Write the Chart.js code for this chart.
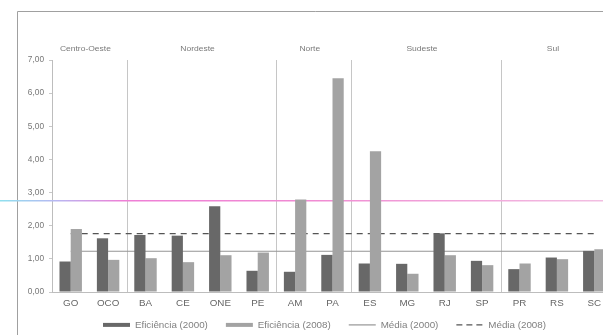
<!DOCTYPE html>
<html>
<head>
<meta charset="utf-8">
<script src="https://cdn.jsdelivr.net/npm/chart.js@4/dist/chart.umd.min.js"></script>
<style>
  html, body { margin: 0; padding: 0; background: #fff; overflow: hidden; }
  canvas { display: block; }
</style>
</head>
<body>
<canvas id="c" width="613" height="335"></canvas>
<script>
// States, grouped by region
const categories = ['GO', 'OCO', 'BA', 'CE', 'ONE', 'PE', 'AM', 'PA', 'ES', 'MG', 'RJ', 'SP', 'PR', 'RS', 'SC'];
const regions = ['Centro-Oeste', 'Nordeste', 'Norte', 'Sudeste', 'Sul'];
const regionSizes = [2, 4, 2, 4, 3];

// Efficiency per state
const eficiencia2000 = [0.92, 1.62, 1.72, 1.70, 2.59, 0.64, 0.61, 1.12, 0.86, 0.85, 1.77, 0.94, 0.69, 1.04, 1.24];
const eficiencia2008 = [1.90, 0.97, 1.02, 0.90, 1.11, 1.19, 2.79, 6.45, 4.25, 0.55, 1.11, 0.81, 0.86, 0.99, 1.29];

// Averages
const media2000 = 1.23;
const media2008 = 1.76;
const marker = 2.75;

const yTicks = [0, 1, 2, 3, 4, 5, 6, 7];

const FONT = '"Liberation Sans", Arial, sans-serif';
const fmt = v => Number(v).toFixed(2).replace('.', ',');

// frame, region separators, region names and the coloured marker line
const decor = {
  id: 'decor',
  afterLayout(chart) {
    const lg = chart.legend;
    lg.left += 18; lg.right += 18;
    lg.top -= 5; lg.bottom -= 5;
  },
  beforeDatasetsDraw(chart) {
    const {ctx, chartArea, scales: {x, y}} = chart;
    ctx.save();
    // frame
    ctx.strokeStyle = '#a0a0a0';
    ctx.lineWidth = 1;
    ctx.beginPath();
    ctx.moveTo(17.5, chart.height);
    ctx.lineTo(17.5, 11.5);
    ctx.lineTo(chart.width, 11.5);
    ctx.stroke();

    // separators between regions + region names
    let start = 0;
    regions.forEach((name, r) => {
      const end = start + regionSizes[r] - 1;
      const cx = (x.getPixelForValue(start) + x.getPixelForValue(end)) / 2;
      ctx.save();
      ctx.translate(cx - 4, chartArea.top - 11);
      ctx.scale(1.25, 1);
      ctx.font = '6.8px ' + FONT;
      ctx.fillStyle = '#7a7a7a';
      ctx.textAlign = 'center';
      ctx.textBaseline = 'middle';
      ctx.fillText(name, 0, 0);
      ctx.restore();
      if (r < regions.length - 1) {
        const sx = Math.round((x.getPixelForValue(end) + x.getPixelForValue(end + 1)) / 2) + 0.5;
        ctx.strokeStyle = '#c6c6c6';
        ctx.lineWidth = 1;
        ctx.beginPath();
        ctx.moveTo(sx, chartArea.top);
        ctx.lineTo(sx, chartArea.bottom);
        ctx.stroke();
      }
      start = end + 1;
    });

    // coloured marker line across the sheet
    const my = y.getPixelForValue(marker);
    const g = ctx.createLinearGradient(0, 0, chart.width, 0);
    g.addColorStop(0, '#8fe0ee');
    g.addColorStop(0.09, '#b7b8f2');
    g.addColorStop(0.2, '#ee7fd6');
    g.addColorStop(0.5, '#f08ad2');
    g.addColorStop(1, '#f2c0e2');
    ctx.strokeStyle = g;
    ctx.lineWidth = 1.5;
    ctx.beginPath();
    ctx.moveTo(0, my);
    ctx.lineTo(chart.width, my);
    ctx.stroke();
    ctx.restore();
  }
};

new Chart(document.getElementById('c'), {
  data: {
    labels: categories,
    datasets: [
      {
        type: 'bar', label: 'Eficiência (2000)', data: eficiencia2000,
        backgroundColor: '#686868', borderWidth: 0, pointStyle: 'rect', order: 1
      },
      {
        type: 'bar', label: 'Eficiência (2008)', data: eficiencia2008,
        backgroundColor: '#a3a3a3', borderWidth: 0, pointStyle: 'rect', order: 1
      },
      {
        type: 'line', label: 'Média (2000)', data: categories.map(() => media2000),
        borderColor: '#959595', backgroundColor: '#959595', borderWidth: 1.2,
        pointRadius: 0, pointStyle: 'line', order: 2
      },
      {
        type: 'line', label: 'Média (2008)', data: categories.map(() => media2008),
        borderColor: '#555555', backgroundColor: '#555555', borderWidth: 1.2, borderDash: [6, 5],
        pointRadius: 0, pointStyle: 'line', order: 2
      }
    ]
  },
  options: {
    responsive: false,
    animation: false,
    datasets: { bar: { categoryPercentage: 0.6, barPercentage: 1.0 } },
    layout: { padding: { top: 60, left: 0, right: 0, bottom: 0 } },
    plugins: {
      legend: {
        position: 'bottom',
        maxHeight: 28,
        labels: {
          usePointStyle: true,
          pointStyleWidth: 27,
          boxHeight: 4,
          padding: 18,
          color: '#808080',
          font: { family: FONT, size: 9.8 },
          generateLabels(chart) {
            const items = Chart.defaults.plugins.legend.labels.generateLabels(chart);
            items.forEach(it => {
              const ds = chart.data.datasets[it.datasetIndex];
              if (ds.type === 'line') {
                it.lineWidth = 1.2;
                it.strokeStyle = ds.borderColor;
                it.lineDash = ds.borderDash ? [6, 4] : [];
              } else {
                it.lineWidth = 0;
              }
            });
            return items;
          }
        }
      },
      tooltip: { enabled: false }
    },
    scales: {
      x: {
        grid: { display: false, drawTicks: false },
        border: { color: '#bdbdbd' },
        ticks: {
          color: '#666', padding: 5,
          font: { family: FONT, size: 9.8 }
        },
        afterFit(s) { s.height = 15; }
      },
      y: {
        min: 0, max: 7,
        afterBuildTicks(s) { s.ticks = yTicks.map(v => ({ value: v })); },
        grid: { drawOnChartArea: false, drawTicks: true, tickLength: 3, color: '#c8c8c8' },
        border: { color: '#bdbdbd' },
        ticks: {
          color: '#777', padding: 5,
          font: { family: FONT, size: 8.3 },
          callback: v => fmt(v)
        },
        afterFit(s) { s.width = 52; }
      }
    }
  },
  plugins: [decor]
});
</script>
</body>
</html>
